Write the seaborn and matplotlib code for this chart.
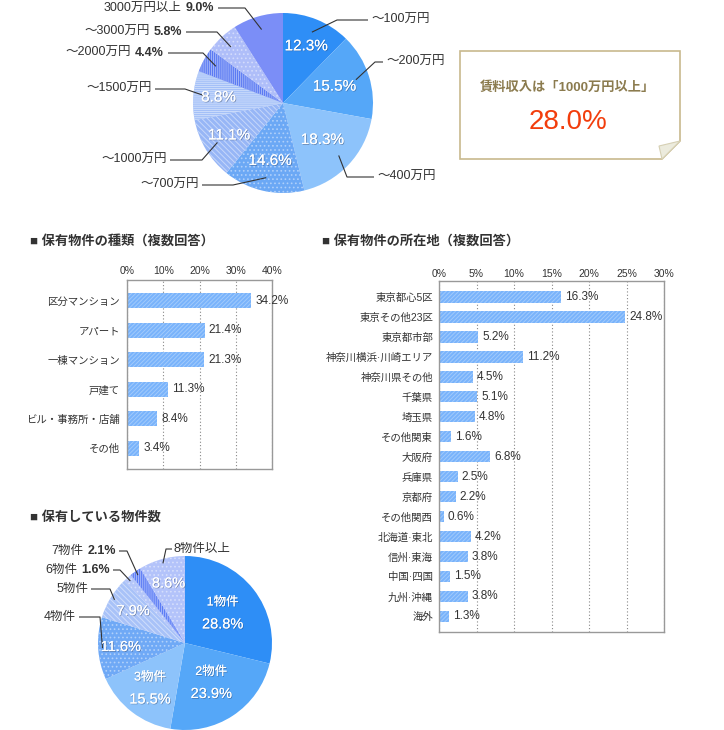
import numpy as np
import matplotlib
matplotlib.use('Agg')
import matplotlib.pyplot as plt
import matplotlib.colors as mcolors
import matplotlib.patheffects as pe
import seaborn as sns
import pandas as pd
from matplotlib.patches import Polygon

sns.set_style('white')
plt.rcParams['font.family'] = ['Liberation Sans', 'Noto Sans CJK JP']
plt.rcParams['hatch.linewidth'] = 0.7

# ---------------- data ----------------
income_labels = ['～100万円', '～200万円', '～400万円', '～700万円', '～1000万円',
                 '～1500万円', '～2000万円', '～3000万円', '3000万円以上']
income_values = [12.3, 15.5, 18.3, 14.6, 11.1, 8.8, 4.4, 5.8, 9.0]
income_colors = ['#2e8ef6', '#55a7f8', '#8dc3fb', '#6ba8f5', '#97b6f6',
                 '#a3c0f8', '#5a7af3', '#afbef9', '#7b8ef7']
income_hatches = [None, None, None, '....', '\\\\\\\\\\\\', '--------', '||||||||', '....', None]

highlight_title = '賃料収入は「1000万円以上」'
highlight_value = '28.0%'

type_labels = ['区分マンション', 'アパート', '一棟マンション', '戸建て', 'ビル・事務所・店舗', 'その他']
type_values = [34.2, 21.4, 21.3, 11.3, 8.4, 3.4]
type_tick_values = [0, 10, 20, 30, 40]
type_tick_labels = ['0%', '10%', '20%', '30%', '40%']

loc_labels = ['東京都心5区', '東京その他23区', '東京都市部', '神奈川横浜·川崎エリア', '神奈川県その他',
              '千葉県', '埼玉県', 'その他関東', '大阪府', '兵庫県', '京都府', 'その他関西',
              '北海道·東北', '信州·東海', '中国·四国', '九州·沖縄', '海外']
loc_values = [16.3, 24.8, 5.2, 11.2, 4.5, 5.1, 4.8, 1.6, 6.8, 2.5, 2.2, 0.6,
              4.2, 3.8, 1.5, 3.8, 1.3]
loc_tick_values = [0, 5, 10, 15, 20, 25, 30]
loc_tick_labels = ['0%', '5%', '10%', '15%', '20%', '25%', '30%']

count_labels = ['1物件', '2物件', '3物件', '4物件', '5物件', '6物件', '7物件', '8物件以上']
count_values = [28.8, 23.9, 15.5, 11.6, 7.9, 1.6, 2.1, 8.6]
count_colors = ['#2e8ef6', '#55a7f8', '#8dc3fb', '#6fa9f6', '#a8c2f8',
                '#b4c6f9', '#5b7cf5', '#b3c3fa']
count_hatches = [None, None, None, '....', '\\\\\\\\\\\\', '....', '||||||||', '....']

titles = ['■ 保有物件の種類（複数回答）', '■ 保有物件の所在地（複数回答）', '■ 保有している物件数']

# ---------------- figure ----------------
W, H = 724, 730
fig = plt.figure(figsize=(W / 100, H / 100), dpi=100)
fig.patch.set_facecolor('white')
TXT = '#333333'
BAR = '#79b3fb'
SHADOW = [pe.withSimplePatchShadow(offset=(0.6, -0.6), shadow_rgbFace='#334466', alpha=0.45),
          pe.Normal()]


def tint(c, t):
    r = np.array(mcolors.to_rgb(c))
    return tuple(r + (1 - r) * t)


def px_axes(l, t, w, h):
    return fig.add_axes([l / W, 1 - (t + h) / H, w / W, h / H])


ov = fig.add_axes([0, 0, 1, 1])
ov.set_xlim(0, W)
ov.set_ylim(H, 0)
ov.axis('off')
ov.set_zorder(10)
renderer = fig.canvas.get_renderer()


def mid_angles(values):
    v = np.array(values, dtype=float)
    v = v / v.sum()
    c = np.cumsum(v) - v / 2
    return np.deg2rad(90 - 360 * c)


def pt(cx, cy, r, ang, f):
    return cx + r * f * np.cos(ang), cy - r * f * np.sin(ang)


def draw_pie(cx, cy, r, values, colors, hatches):
    ax = px_axes(cx - r, cy - r, 2 * r, 2 * r)
    wedges, _ = ax.pie(values, colors=colors, startangle=90, counterclock=False,
                       wedgeprops=dict(linewidth=0))
    for w, h, c in zip(wedges, hatches, colors):
        if h:
            w.set_hatch(h)
            w.set_edgecolor(tint(c, 0.45))
            w.set_linewidth(0)
    ax.set_xlim(-1, 1)
    ax.set_ylim(-1, 1)
    return ax


def leader(anchor, elbow, lx):
    ov.plot([anchor[0], elbow[0], lx], [anchor[1], elbow[1], elbow[1]],
            color=TXT, lw=0.8, solid_capstyle='butt')


def label_pair(x, y, normal, bold, size=9):
    tb = ov.text(x, y, bold, ha='right', va='center', fontsize=size,
                 fontweight='bold', color=TXT)
    w = tb.get_window_extent(renderer=renderer).width
    ov.text(x - w - 4, y, normal, ha='right', va='center', fontsize=size, color=TXT)


def white_text(x, y, s, size):
    ov.text(x, y, s, ha='center', va='center', fontsize=size, color='white',
            path_effects=SHADOW)


# ---------- top pie ----------
cx1, cy1, r1 = 283, 103, 90
draw_pie(cx1, cy1, r1, income_values, income_colors, income_hatches)
ang1 = mid_angles(income_values)
in_frac1 = [0.68, 0.6, 0.6, 0.66, 0.7, 0.72, None, None, None]
for a, f, v in zip(ang1, in_frac1, income_values):
    if f is None:
        continue
    x, y = pt(cx1, cy1, r1, a, f)
    white_text(x, y, f'{v:.1f}%', 11)

# (elbow_x, elbow_y, line_end_x, side)
top_layout = [(337, 20, 368, 'L'), (375, 62, 383, 'L'), (347, 177, 374, 'L'),
              (233, 185, 202, 'R'), (202, 160, 170, 'R'), (185, 89, 155, 'R'),
              (203, 53, 168, 'R'), (217, 32, 186, 'R'), (245, 8, 218, 'R')]
for i, (lab, v, a, (ex, ey, lx, side)) in enumerate(zip(income_labels, income_values, ang1, top_layout)):
    anchor = pt(cx1, cy1, r1, a, 0.85)
    leader(anchor, (ex, ey), lx)
    if side == 'L':
        ov.text(lx + 3, ey, lab, ha='left', va='center', fontsize=9, color=TXT)
    elif i >= 6:
        label_pair(lx - 4, ey, lab, f'{v:.1f}%')
    else:
        ov.text(lx - 3, ey, lab, ha='right', va='center', fontsize=9, color=TXT)

# ---------- highlight box ----------
box = Polygon([(460, 51), (680, 51), (680, 141), (662, 159), (460, 159)], closed=True,
              facecolor='white', edgecolor='#c8b98d', lw=1.2)
ov.add_patch(box)
fold = Polygon([(680, 141), (662, 159), (659, 146)], closed=True,
               facecolor='#ecebdd', edgecolor='#d6d0b4', lw=0.8)
ov.add_patch(fold)
ov.text(567, 88, highlight_title, ha='center', va='center', fontsize=9.5,
        fontweight='bold', color='#8b7b4e')
ov.text(568, 122, highlight_value, ha='center', va='center', fontsize=20, color='#f23d0c')

# ---------- section titles ----------
ov.text(30, 241, titles[0], ha='left', va='center', fontsize=9.5, fontweight='bold', color=TXT)
ov.text(322, 241, titles[1], ha='left', va='center', fontsize=9.5, fontweight='bold', color=TXT)
ov.text(30, 517, titles[2], ha='left', va='center', fontsize=9.5, fontweight='bold', color=TXT)


# ---------- bar charts ----------
def bar_chart(ax, labels, values, ticks, ticklabels, xmax, ylim, width, tpad, ypad):
    df = pd.DataFrame({'cat': labels, 'val': values})
    sns.barplot(data=df, x='val', y='cat', orient='h', color=BAR, width=width,
                saturation=1, ax=ax)
    for p in ax.patches:
        p.set_hatch('////////')
        p.set_edgecolor(tint(BAR, 0.3))
        p.set_linewidth(0)
    for i, v in enumerate(values):
        ax.annotate(f'{v:.1f}%', (v, i), xytext=(3, 0), textcoords='offset points',
                    ha='left', va='center', fontsize=8.5, color=TXT)
    ax.set_xlim(0, xmax)
    ax.set_ylim(*ylim)
    ax.set_xticks(ticks)
    ax.set_xticklabels(ticklabels)
    ax.xaxis.tick_top()
    ax.tick_params(axis='x', length=0, pad=tpad, labelsize=7.5, colors=TXT)
    ax.tick_params(axis='y', length=0, pad=ypad, labelsize=7.5, colors=TXT)
    ax.set_xlabel('')
    ax.set_ylabel('')
    ax.grid(axis='x', linestyle=(0, (1, 2)), color='#888888', lw=0.8)
    ax.grid(axis='y', visible=False)
    ax.set_axisbelow(True)
    for s in ax.spines.values():
        s.set_visible(True)
        s.set_color('#999999')
        s.set_linewidth(1)


ax1 = px_axes(127, 280, 145, 189)
bar_chart(ax1, type_labels, type_values, type_tick_values, type_tick_labels, 40,
          (5.7, -0.7), 0.5, 3, 5)

ax2 = px_axes(439, 281, 225, 351)
bar_chart(ax2, loc_labels, loc_values, loc_tick_values, loc_tick_labels, 30,
          (16.78, -0.8), 0.57, 1.5, 4.3)

# ---------- bottom pie ----------
cx2, cy2, r2 = 185, 643, 87
draw_pie(cx2, cy2, r2, count_values, count_colors, count_hatches)
ang2 = mid_angles(count_values)
in_frac2 = [0.55, 0.55, 0.66, 0.74, 0.70, None, None, 0.71]
for i, (a, f, v, lab) in enumerate(zip(ang2, in_frac2, count_values, count_labels)):
    if f is None:
        continue
    x, y = pt(cx2, cy2, r2, a, f)
    if i < 3:
        white_text(x, y - 11, lab, 9)
        white_text(x, y + 11, f'{v:.1f}%', 10.5)
    else:
        white_text(x, y, f'{v:.1f}%', 10.5)

# index: (elbow_x, elbow_y, line_end_x, side)
bottom_layout = {7: (166, 549, 172, 'L'), 6: (127, 551, 119, 'R'), 5: (120, 570, 113, 'R'),
                 4: (110, 589, 91, 'R'), 3: (100, 617, 79, 'R')}
for i, (ex, ey, lx, side) in bottom_layout.items():
    anchor = pt(cx2, cy2, r2, ang2[i], 0.95)
    leader(anchor, (ex, ey), lx)
    if side == 'L':
        ov.text(lx + 2, ey, count_labels[i], ha='left', va='center', fontsize=9, color=TXT)
    elif i in (5, 6):
        label_pair(lx - 3, ey, count_labels[i], f'{count_values[i]:.1f}%')
    else:
        ov.text(lx - 3, ey, count_labels[i], ha='right', va='center', fontsize=9, color=TXT)

fig.savefig('out.png', dpi=100, facecolor='white')
